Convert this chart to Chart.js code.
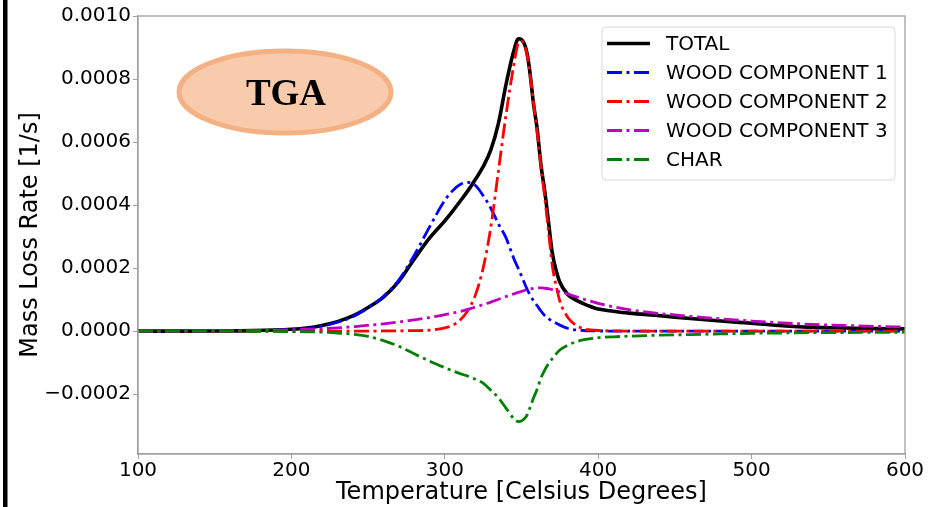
<!DOCTYPE html>
<html>
<head>
<meta charset="utf-8">
<script src="https://cdn.jsdelivr.net/npm/chart.js@4"></script>
<style>
  html, body { margin: 0; padding: 0; background: #fff; }
  #wrap { width: 933px; height: 507px; position: relative; }
</style>
</head>
<body>
<div id="wrap"><canvas id="myChart"></canvas></div>
<script>
// Temperaturen [°C]
const temps = [100, 125, 150, 175, 200, 210, 220, 230, 240, 250, 260, 270, 280, 290, 300,
  305, 310, 315, 320, 325, 330, 335, 340, 345,
  348, 350, 353, 355, 358, 360, 363, 365, 368, 370, 373, 375,
  380, 385, 390, 395, 400, 410, 420,
  440, 460, 480, 500, 520, 540, 560, 580, 600];

// Werte in Einheiten von 1e-4 1/s
const total = [0, 0, 0.003, 0.015, 0.06, 0.1, 0.18, 0.3, 0.48, 0.75, 1.08, 1.58, 2.28, 2.95, 3.5,
  3.8, 4.12, 4.45, 4.82, 5.22, 5.75, 6.6, 7.85, 8.9,
  9.28, 9.25, 8.95, 8.4, 7.15, 6.5, 5.15, 4.5, 3.3, 2.5, 1.85, 1.55,
  1.17, 1.0, 0.88, 0.78, 0.7, 0.63, 0.57,
  0.49, 0.4, 0.32, 0.25, 0.17, 0.12, 0.1, 0.08, 0.07];
const wood1 = [0, 0, 0.002, 0.012, 0.05, 0.09, 0.16, 0.28, 0.46, 0.74, 1.1, 1.62, 2.4, 3.3, 4.15,
  4.45, 4.65, 4.72, 4.62, 4.3, 3.9, 3.4, 2.95, 2.3,
  1.98, 1.75, 1.4, 1.2, 0.95, 0.82, 0.62, 0.5, 0.38, 0.32, 0.24, 0.19,
  0.09, 0.04, 0.02, 0.01, 0.005, 0, 0,
  0, 0, 0, 0, 0, 0, 0, 0, 0];
const wood2 = [0, 0, 0, 0, 0, 0, 0, 0, 0, 0, 0.005, 0.01, 0.015, 0.03, 0.1,
  0.18, 0.35, 0.65, 1.15, 2.0, 3.3, 5.1, 6.9, 8.45,
  9.15, 9.2, 8.9, 8.35, 7.2, 6.4, 5.1, 4.3, 3.0, 2.1, 1.35, 0.95,
  0.45, 0.2, 0.08, 0.04, 0.02, 0.005, 0,
  0, 0, 0, 0, 0, 0, 0, 0, 0];
const wood3 = [0, 0, 0.005, 0.015, 0.04, 0.055, 0.075, 0.1, 0.14, 0.18, 0.23, 0.29, 0.36, 0.43, 0.52,
  0.57, 0.62, 0.69, 0.76, 0.84, 0.92, 1.01, 1.1, 1.18,
  1.23, 1.26, 1.31, 1.33, 1.36, 1.37, 1.37, 1.36, 1.34, 1.32, 1.28, 1.25,
  1.18, 1.1, 1.02, 0.95, 0.88, 0.77, 0.68,
  0.56, 0.47, 0.39, 0.32, 0.26, 0.21, 0.18, 0.15, 0.13];
const charr = [0, 0, 0, -0.005, -0.015, -0.02, -0.035, -0.06, -0.1, -0.17, -0.3, -0.48, -0.72, -0.95, -1.16,
  -1.26, -1.35, -1.43, -1.53, -1.65, -1.88, -2.12, -2.45, -2.78,
  -2.87, -2.85, -2.72, -2.5, -2.1, -1.87, -1.45, -1.25, -1.0, -0.88, -0.7, -0.6,
  -0.45, -0.35, -0.28, -0.24, -0.21, -0.18, -0.16,
  -0.13, -0.11, -0.09, -0.07, -0.06, -0.05, -0.045, -0.04, -0.035];

const xTicks = [100, 200, 300, 400, 500, 600];
const yTicks = [-0.0002, 0, 0.0002, 0.0004, 0.0006, 0.0008, 0.0010];

const UNIT = 1e-4;
const DASHDOT = [15, 4.5, 3, 4.5];
const AXIS_GRAY = '#a0a0a0';

function toPoints(vals) {
    return temps.map((t, i) => ({ x: t, y: vals[i] * UNIT }));
}

function series(label, vals, color, width, dash, order) {
    return {
        label: label,
        data: toPoints(vals),
        borderColor: color,
        backgroundColor: color,
        borderWidth: width,
        borderDash: dash,
        borderCapStyle: 'butt',
        pointRadius: 0,
        cubicInterpolationMode: 'monotone',
        fill: false,
        order: order
    };
}

// Dekoration: Balken links, Rahmen, TGA-Ellipse, Legende
const decor = {
    id: 'decor',
    beforeDraw(chart) {
        const ctx = chart.ctx;
        ctx.save();
        ctx.fillStyle = '#fff';
        ctx.fillRect(0, 0, chart.width, chart.height);
        ctx.fillStyle = '#000';
        ctx.fillRect(3, 0, 4.5, chart.height);
        ctx.restore();
    },
    afterDraw(chart) {
        const ctx = chart.ctx;
        const a = chart.chartArea;
        ctx.save();

        // Rahmen oben/rechts
        ctx.strokeStyle = AXIS_GRAY;
        ctx.lineWidth = 1.3;
        ctx.strokeRect(a.left, a.top, a.right - a.left, a.bottom - a.top);

        // TGA-Ellipse
        ctx.beginPath();
        ctx.ellipse(285, 92, 106, 41, 0, 0, Math.PI * 2);
        ctx.fillStyle = '#f8cbad';
        ctx.fill();
        ctx.lineWidth = 5;
        ctx.strokeStyle = '#f4b183';
        ctx.stroke();
        ctx.fillStyle = '#000';
        ctx.font = 'bold 37px "Liberation Serif"';
        ctx.textAlign = 'center';
        ctx.textBaseline = 'middle';
        ctx.fillText('TGA', 286, 95);

        // Legende
        const bx = 602, by = 27, bw = 293, bh = 153;
        ctx.beginPath();
        ctx.roundRect(bx, by, bw, bh, 4);
        ctx.fillStyle = 'rgba(255,255,255,0.8)';
        ctx.fill();
        ctx.lineWidth = 1;
        ctx.strokeStyle = '#d9d9d9';
        ctx.stroke();

        ctx.font = '20px "DejaVu Sans"';
        ctx.textAlign = 'left';
        chart.data.datasets.forEach((ds, i) => {
            const y = 43.5 + i * 29;
            ctx.beginPath();
            ctx.strokeStyle = ds.borderColor;
            ctx.lineWidth = ds.borderWidth;
            ctx.lineCap = 'butt';
            ctx.setLineDash(ds.borderDash || []);
            ctx.moveTo(607, y);
            ctx.lineTo(650, y);
            ctx.stroke();
            ctx.setLineDash([]);
            ctx.fillStyle = '#000';
            ctx.fillText(ds.label, 666, y + 1);
        });
        ctx.restore();
    }
};

Chart.defaults.font.family = '"DejaVu Sans"';
Chart.defaults.color = '#000';

const ctx = document.getElementById('myChart').getContext('2d');
const myChart = new Chart(ctx, {
    type: 'line',
    data: {
        datasets: [
            series('TOTAL', total, '#000000', 3.6, [], 5),
            series('WOOD COMPONENT 1', wood1, '#0000ff', 2.8, DASHDOT, 4),
            series('WOOD COMPONENT 2', wood2, '#ff0000', 2.8, DASHDOT, 3),
            series('WOOD COMPONENT 3', wood3, '#bf00bf', 2.8, DASHDOT, 2),
            series('CHAR', charr, '#008000', 2.8, DASHDOT, 1)
        ]
    },
    options: {
        responsive: true,
        maintainAspectRatio: false,
        animation: false,
        layout: { padding: { left: 0, top: 16, right: 28, bottom: 0 } },
        plugins: {
            legend: { display: false },
            tooltip: { enabled: false }
        },
        scales: {
            x: {
                type: 'linear',
                min: 100,
                max: 600,
                afterBuildTicks: s => { s.ticks = xTicks.map(v => ({ value: v })); },
                afterFit: s => { s.height = 53; },
                ticks: { font: { size: 20 }, color: '#000', padding: 0, maxRotation: 0, autoSkip: false },
                grid: { drawOnChartArea: false, tickLength: 5, color: AXIS_GRAY },
                border: { display: true, color: AXIS_GRAY, width: 1.3 },
                title: {
                    display: true,
                    text: 'Temperature [Celsius Degrees]',
                    font: { size: 24 },
                    color: '#000',
                    padding: { top: 0, bottom: 0 }
                }
            },
            y: {
                min: -0.00039,
                max: 0.001,
                afterBuildTicks: s => { s.ticks = yTicks.map(v => ({ value: v })); },
                afterFit: s => { s.width = 138; },
                ticks: {
                    font: { size: 20 },
                    color: '#000',
                    padding: 2,
                    callback: v => v.toFixed(4).replace('-', '\u2212')
                },
                grid: { drawOnChartArea: false, tickLength: 5, color: AXIS_GRAY },
                border: { display: true, color: AXIS_GRAY, width: 1.3 },
                title: {
                    display: true,
                    text: 'Mass Loss Rate [1/s]',
                    font: { size: 24 },
                    color: '#000',
                    padding: { top: 16, bottom: 0 }
                }
            }
        }
    },
    plugins: [decor]
});
</script>
</body>
</html>
